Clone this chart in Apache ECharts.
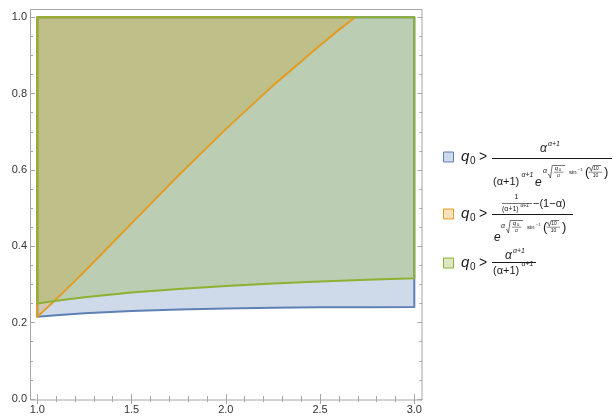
<!DOCTYPE html>
<html>
<head>
<meta charset="utf-8">
<script src="https://cdn.jsdelivr.net/npm/echarts@6/dist/echarts.min.js"></script>
<style>html,body{margin:0;padding:0;background:#fff}#c{width:613px;height:416px}</style>
</head>
<body>
<div id="c"></div>
<script>
// ---- data ----
const alpha = [1.0, 1.1, 1.25, 1.5, 1.75, 2.0, 2.25, 2.5, 2.75, 3.0];
const blueQ = [0.2154, 0.2196, 0.2247, 0.2308, 0.2347, 0.2374, 0.2391, 0.2401, 0.2405, 0.2407];
const greenQ = [0.250, 0.2572, 0.2665, 0.2789, 0.2885, 0.2963, 0.3027, 0.3080, 0.3125, 0.3164];
const orangeAlpha = [1.0, 1.05, 1.1, 1.2, 1.25, 1.375, 1.5, 1.75, 2.0, 2.25, 2.5, 2.6, 2.686];
const orangeQ = [0.2154, 0.2381, 0.2614, 0.3094, 0.334, 0.397, 0.460, 0.586, 0.707, 0.821, 0.927, 0.967, 1.0];
const xTickLabels = ['1.0', '1.5', '2.0', '2.5', '3.0'];
const yTickLabels = ['0.0', '0.2', '0.4', '0.6', '0.8', '1.0'];

const BLUE = '#5e81b5', ORANGE = '#e19c24', GREEN = '#8fb032';
const FONT = '"Liberation Sans", Arial, sans-serif';
const INK = '#1a1a1a';

const chart = echarts.init(document.getElementById('c'), null, {renderer: 'canvas'});

function rgba(hex, a) {
  const n = parseInt(hex.slice(1), 16);
  return 'rgba(' + (n >> 16) + ',' + ((n >> 8) & 255) + ',' + (n & 255) + ',' + a + ')';
}

function regionSeries(xs, ys, color, closeRight, mode) {
  return {
    type: 'custom',
    clip: false,
    z: mode === 'fill' ? 2 : 3,
    data: xs.map((x, i) => [x, ys[i]]),
    renderItem: function (params, api) {
      if (params.dataIndex !== 0) return null;
      const pts = xs.map((x, i) => api.coord([x, ys[i]]));
      if (closeRight) pts.push(api.coord([xs[xs.length - 1], 1]));
      pts.push(api.coord([xs[0], 1]));
      return {
        type: 'polygon',
        shape: {points: pts},
        style: mode === 'fill'
          ? {fill: rgba(color, 0.3), stroke: null}
          : {fill: null, stroke: color, lineWidth: 2, lineJoin: 'round'}
      };
    }
  };
}

// ---- legend drawing helpers ----
function txt(x, y, s, size, italic, align) {
  return {type: 'text', x: x, y: y, z: 10, style: {text: s, font: (italic ? 'italic ' : '') + size + 'px ' + FONT,
    fill: INK, textAlign: align || 'left', textVerticalAlign: 'middle'}};
}
function ln(x1, y1, x2, y2, w) {
  return {type: 'line', z: 10, shape: {x1: x1, y1: y1, x2: x2, y2: y2}, style: {stroke: INK, lineWidth: w || 1}};
}
function sqrtSign(x0, x1, yTop, yBot) {
  return {type: 'polyline', z: 10, shape: {points: [[x0, yBot - 3], [x0 + 1, yBot - 3.6], [x0 + 2.4, yBot], [x0 + 4.2, yTop], [x1, yTop]]},
    style: {stroke: INK, lineWidth: 0.6, fill: null}};
}
function expGroup(x, yc) {
  return [
    txt(x, yc - 1, 'α', 7, true),
    sqrtSign(x + 5, x + 22, yc - 6.5, yc + 6),
    txt(x + 13.5, yc - 3.2, 'q', 6, true, 'center'),
    txt(x + 16, yc - 2, '0', 4, false),
    ln(x + 11, yc + 0.2, x + 20.5, yc + 0.2, 0.5),
    txt(x + 15.5, yc + 3.3, 'α', 5, true, 'center'),
    txt(x + 26, yc, 'sin', 6, false),
    txt(x + 35, yc - 2.5, '−1', 4, false),
    txt(x + 42, yc, '(', 13, false),
    sqrtSign(x + 46, x + 58, yc - 6.5, yc - 0.8),
    txt(x + 53, yc - 3.3, '10', 5, false, 'center'),
    ln(x + 45.5, yc + 0.2, x + 59, yc + 0.2, 0.5),
    txt(x + 52.5, yc + 3.4, '10', 5, false, 'center'),
    txt(x + 61, yc, ')', 13, false)
  ];
}
function qGreater(yc) {
  return [
    txt(461, yc, 'q', 15, true),
    txt(470, yc + 4, '0', 10, false),
    txt(479, yc, '>', 14, false)
  ];
}
function swatch(yc, color) {
  return {type: 'rect', z: 10, shape: {x: 443.5, y: yc - 5, width: 10, height: 10},
    style: {fill: rgba(color, 0.3), stroke: color, lineWidth: 1}};
}

const legend = [].concat(
  // row 1 (blue)
  [swatch(157, BLUE)], qGreater(157),
  [ln(492, 158.5, 612, 158.5, 1),
   txt(540, 149, 'α', 12, true), txt(548, 144, 'α+1', 7, true),
   txt(493, 182, '(α+1)', 11, false), txt(521.5, 175, 'α+1', 7, true),
   txt(535, 183, 'e', 12, true)],
  expGroup(543, 172),
  // row 2 (orange)
  [swatch(214, ORANGE)], qGreater(214),
  [ln(492, 214.5, 573, 214.5, 1),
   txt(516.5, 197.5, '1', 7, false, 'center'),
   ln(502, 203.5, 532, 203.5, 0.6),
   txt(502, 209, '(α+1)', 7, false), txt(520.5, 206, 'α+1', 5, true),
   txt(533, 204, '−(1−α)', 11, false),
   txt(494, 238, 'e', 12, true)],
  expGroup(501, 227),
  // row 3 (green)
  [swatch(263, GREEN)], qGreater(263),
  [ln(492, 262.5, 536, 262.5, 1),
   txt(505, 256, 'α', 12, true), txt(513, 251, 'α+1', 7, true),
   txt(493, 271, '(α+1)', 11, false), txt(521.5, 264.5, 'α+1', 7, true)]
);

// frame box
const frame = {type: 'rect', z: 1, shape: {x: 30.5, y: 9.5, width: 391.5, height: 390.5},
  style: {fill: null, stroke: '#a6a6a6', lineWidth: 1}};

const tickStyle = {color: '#a6a6a6', width: 1};
function xAx(pos, offset, labels) {
  return {
    type: 'value', position: pos, min: 1, max: 3, interval: 0.5, offset: offset,
    axisLine: {show: false},
    axisTick: {show: true, inside: true, length: 5, lineStyle: tickStyle},
    minorTick: {show: true, splitNumber: 5, length: 3, lineStyle: tickStyle},
    splitLine: {show: false}, minorSplitLine: {show: false},
    axisLabel: {show: labels, margin: 4, color: '#333', fontFamily: FONT, fontSize: 11,
      formatter: v => xTickLabels[Math.round((v - 1) / 0.5)]}
  };
}
function yAx(pos, offset, labels) {
  return {
    type: 'value', position: pos, min: 0, max: 1, interval: 0.2, offset: offset,
    axisLine: {show: false},
    axisTick: {show: true, inside: true, length: 5, lineStyle: tickStyle},
    minorTick: {show: true, splitNumber: 4, length: 3, lineStyle: tickStyle},
    splitLine: {show: false}, minorSplitLine: {show: false},
    axisLabel: {show: labels, margin: 3, color: '#333', fontFamily: FONT, fontSize: 11,
      formatter: v => yTickLabels[Math.round(v / 0.2)]}
  };
}

chart.setOption({
  animation: false,
  grid: {left: 37.3, right: 198.7, top: 17.3, bottom: 17, containLabel: false},
  xAxis: [xAx('bottom', 1, true), xAx('top', 8, false)],
  yAxis: [yAx('left', 7.3, true), yAx('right', 8, false)],
  graphic: [frame].concat(legend),
  series: [
    regionSeries(alpha, blueQ, BLUE, true, 'fill'),
    regionSeries(orangeAlpha, orangeQ, ORANGE, false, 'fill'),
    regionSeries(alpha, greenQ, GREEN, true, 'fill'),
    regionSeries(alpha, blueQ, BLUE, true, 'line'),
    regionSeries(orangeAlpha, orangeQ, ORANGE, false, 'line'),
    regionSeries(alpha, greenQ, GREEN, true, 'line')
  ]
});
</script>
</body>
</html>
